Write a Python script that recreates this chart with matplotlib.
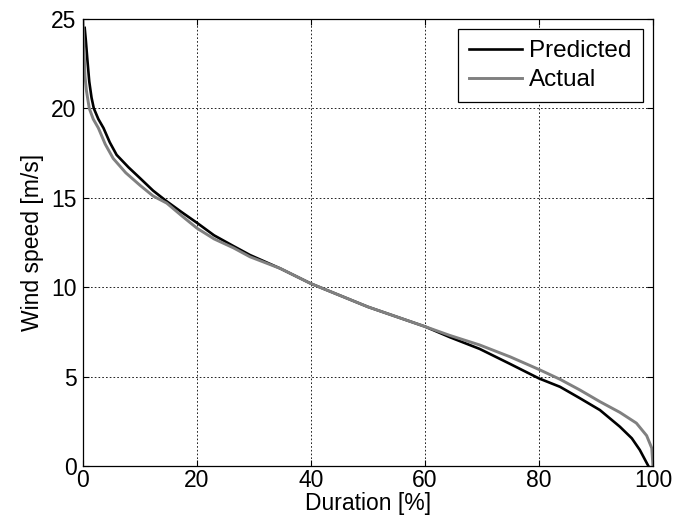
import matplotlib
matplotlib.use("Agg")
import matplotlib.pyplot as plt

plt.rcParams['font.family'] = ['Liberation Sans', 'DejaVu Sans']

# duration curve of wind speed, predicted vs. measured
dur_pred = [0.3, 0.5, 0.75, 1.1, 1.5, 1.9, 2.7, 3.6, 4.7, 5.9, 8, 10, 12.3, 14.7,
            17.3, 20, 23, 26.4, 29.3, 34.6, 40, 45, 50, 55, 60, 64.4, 69.6, 75,
            80, 83.7, 87.2, 90.7, 94.2, 96.3, 97.7, 98.8, 99.2]
speed_pred = [24.5, 23.8, 22.8, 21.5, 20.6, 20.0, 19.4, 18.9, 18.1, 17.4, 16.7, 16.1, 15.4, 14.8,
              14.2, 13.6, 12.9, 12.3, 11.8, 11.05, 10.2, 9.55, 8.9, 8.35, 7.8, 7.2, 6.55, 5.7,
              4.9, 4.43, 3.79, 3.13, 2.2, 1.55, 0.9, 0.24, 0.0]

dur_act = [0, 0.15, 0.35, 0.6, 1.1, 1.8, 2.7, 3.9, 5.3, 7.5, 10, 12.3, 14.7,
           17.3, 20, 23, 26.4, 29.3, 34.6, 40, 45, 50, 55, 60, 64.4, 69.6, 75,
           80, 83.7, 87.2, 90.7, 94.2, 97.1, 98.9, 99.8, 100]
speed_act = [25, 23.5, 21.8, 21.0, 20.0, 19.4, 18.9, 18.0, 17.2, 16.4, 15.7, 15.1, 14.7,
             14.0, 13.3, 12.7, 12.2, 11.7, 11.05, 10.2, 9.55, 8.9, 8.35, 7.8, 7.3, 6.77, 6.1,
             5.4, 4.85, 4.25, 3.6, 3.0, 2.4, 1.7, 1.0, 0.0]

xticks = [0, 20, 40, 60, 80, 100]
yticks = [0, 5, 10, 15, 20, 25]
fs = 16.5

fig = plt.figure(figsize=(6.78, 5.27), dpi=100)
ax = fig.add_axes([0.1224, 0.1157, 0.8406, 0.8483])

ax.plot(dur_pred, speed_pred, color='black', lw=1.9, label='Predicted')
ax.plot(dur_act, speed_act, color='#808080', lw=2.1, label='Actual')

ax.set_xlim(0, 100)
ax.set_ylim(0, 25)
ax.set_xticks(xticks)
ax.set_yticks(yticks)
ax.tick_params(direction='in', length=4, width=0.8, labelsize=fs,
               top=True, right=True)
ax.tick_params(axis='y', pad=4.5)
ax.tick_params(axis='x', pad=2.5)
ax.grid(True, color='black', linestyle=(0, (2, 2.5)), linewidth=0.6)
for s in ax.spines.values():
    s.set_linewidth(0.9)

ax.set_xlabel('Duration [%]', fontsize=fs, labelpad=0)
ax.set_ylabel('Wind speed [m/s]', fontsize=fs, labelpad=5)

leg = ax.legend(loc='upper right', fontsize=17.5, fancybox=False, framealpha=1,
                edgecolor='black', handlelength=2.2, borderaxespad=0.42,
                handletextpad=0.3, labelspacing=0.3, borderpad=0.45)
leg.get_frame().set_linewidth(0.9)

fig.savefig('out.png', dpi=100)
